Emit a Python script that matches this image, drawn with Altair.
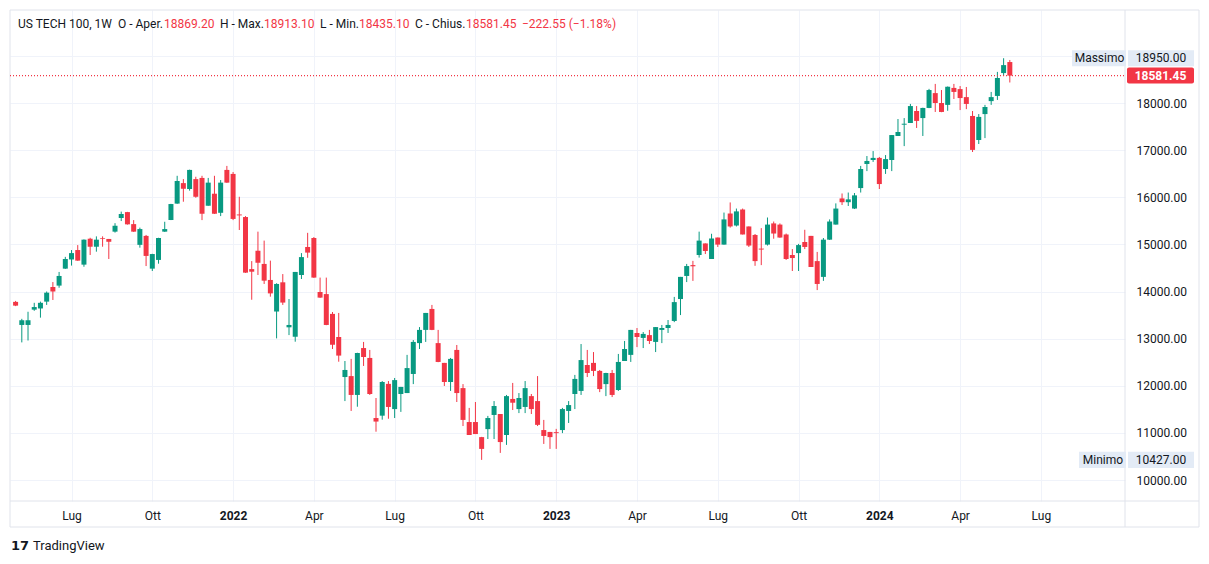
import altair as alt
import pandas as pd

# ---------------- data (weekly candles, US TECH 100) ----------------
opens = [13780, 13290, 13290, 13615, 13640, 13785, 14095, 14125, 14485, 14680,
         14880, 14570, 15120, 14950, 15135, 15115, 15270, 15560, 15685, 15430,
         14990, 15180, 14485, 14670, 15270, 15517, 15865, 16300, 16175, 16385,
         16410, 15820, 16075, 15670, 16580, 16495, 15635, 15580, 14475, 14865,
         14585, 14245, 13575, 14195, 13240, 13040, 14350, 14945, 15135, 13990,
         13945, 13525, 13035, 12185, 12205, 11805, 12800, 12590, 11315, 11365,
         12040, 11505, 11825, 11845, 12250, 12905, 13185, 13630, 12905, 12485,
         12080, 12760, 11950, 11230, 11230, 10910, 11080, 11380, 11400, 10955,
         11720, 11505, 11550, 11780, 11675, 11060, 11020, 11015, 11060, 11465,
         11825, 11890, 12440, 12485, 12315, 12035, 12270, 11910, 12525, 12655,
         13120, 13015, 13075, 12930, 13185, 13225, 13375, 13840, 14330, 14560,
         14775, 15020, 14690, 15145, 14995, 15655, 15400, 15740, 15380, 15200,
         14910, 14995, 15445, 15420, 15210, 14775, 14815, 15050, 15180, 14645,
         14310, 15100, 15420, 15975, 15895, 15760, 16195, 16705, 16790, 16835,
         16600, 16790, 17300, 17540, 17575, 17830, 17680, 17895, 18210, 18000,
         17960, 18320, 18295, 18125, 17725, 17215, 17765, 18040, 18150, 18635,
         18869.20]
highs = [13800, 13420, 13570, 13760, 13785, 14000, 14200, 14415, 14735, 14880,
         14985, 15105, 15140, 15170, 15170, 15115, 15450, 15695, 15690, 15515,
         15355, 15200, 14800, 15140, 15480, 15860, 16455, 16385, 16585, 16435,
         16455, 16410, 16455, 16365, 16665, 16535, 16010, 15600, 14645, 15270,
         15080, 14655, 14175, 14370, 13840, 14415, 14815, 15245, 15155, 14295,
         14295, 13565, 13545, 12525, 12570, 12700, 12930, 12760, 11740, 12100,
         12100, 12165, 11975, 12655, 12970, 13245, 13545, 13715, 13185, 12485,
         12590, 12865, 12035, 11530, 11655, 10915, 11360, 11675, 11400, 11805,
         12060, 11845, 12100, 11825, 12205, 11275, 11020, 11085, 11530, 11675,
         12230, 12885, 12760, 12715, 12335, 12275, 12335, 12675, 12950, 13185,
         13225, 13140, 13185, 13245, 13290, 13395, 13885, 14310, 14585, 14650,
         15270, 15020, 15225, 15145, 15675, 15890, 15760, 15760, 15380, 15220,
         15345, 15570, 15485, 15445, 15230, 14900, 15010, 15310, 15180, 14840,
         15135, 15530, 15870, 16080, 16100, 16090, 16665, 16875, 16980, 16855,
         16895, 17320, 17660, 17680, 17980, 17935, 17900, 18300, 18405, 18275,
         18350, 18405, 18360, 18340, 17830, 17765, 17960, 18235, 18660, 18950,
         18913.10]
lows = [13690, 12920, 12960, 13590, 13445, 13715, 13820, 14080, 14480, 14550,
        14650, 14525, 14775, 14845, 14950, 14690, 15250, 15495, 15420, 15265,
        14930, 14540, 14435, 14590, 15265, 15515, 15860, 15905, 16140, 15990,
        15515, 15820, 15645, 15600, 16305, 15515, 15305, 14395, 13825, 14350,
        14160, 13890, 13005, 13715, 13075, 12935, 14265, 14715, 14290, 13865,
        13285, 12780, 12510, 11675, 11465, 11555, 12420, 11805, 11025, 11280,
        11300, 11315, 11445, 11845, 12035, 12780, 12930, 13180, 12500, 11995,
        11890, 11655, 11145, 10955, 10975, 10427, 10870, 10870, 10575, 10745,
        11485, 11420, 11420, 11400, 11145, 10765, 10660, 10660, 10995, 11210,
        11505, 11805, 12185, 12205, 11865, 11780, 11760, 11890, 12525, 12505,
        12820, 12800, 12885, 12715, 12905, 13120, 13350, 13500, 14200, 14225,
        14720, 14795, 14690, 14945, 14995, 15355, 15380, 15210, 14945, 14545,
        14560, 14975, 15120, 15140, 14670, 14435, 14435, 14900, 14520, 14030,
        14225, 15095, 15420, 15835, 15815, 15750, 16100, 16555, 16750, 16175,
        16495, 16555, 17300, 17085, 17575, 17470, 17300, 17890, 17810, 17805,
        17835, 18085, 17850, 17870, 16960, 17130, 17255, 17960, 18065, 18575,
        18435.10]
closes = [13700, 13390, 13390, 13670, 13760, 13975, 14000, 14330, 14690, 14815,
          14655, 15100, 14950, 15100, 15120, 15055, 15395, 15645, 15425, 15270,
          15325, 14755, 14795, 15135, 15325, 15856, 16345, 16180, 16580, 16010,
          15650, 16310, 15650, 16310, 16310, 15540, 15615, 14400, 14420, 14610,
          14230, 13960, 14160, 13765, 13290, 14415, 14730, 14825, 14295, 13870,
          13290, 12870, 12640, 12335, 11805, 12695, 12610, 11825, 11240, 12080,
          11550, 12120, 11975, 12375, 12930, 13185, 13545, 13185, 12505, 12080,
          12570, 11845, 11275, 10955, 10975, 10660, 11315, 11570, 10805, 11780,
          11640, 11740, 11950, 11505, 11170, 10935, 10910, 10995, 11505, 11590,
          12145, 12545, 12270, 12315, 11930, 12270, 11805, 12505, 12780, 13185,
          13035, 13100, 12950, 13245, 13225, 13290, 13775, 14310, 14540, 14535,
          15080, 14860, 15125, 14995, 15530, 15380, 15700, 15210, 14975, 14645,
          14890, 15420, 15230, 15145, 14690, 14710, 14985, 14945, 14520, 14160,
          15100, 15485, 15760, 15895, 15955, 16040, 16600, 16770, 16835, 16280,
          16810, 17320, 17385, 17560, 17935, 17620, 17895, 18275, 18000, 17810,
          18345, 18235, 18105, 17980, 17005, 17705, 17915, 18125, 18530, 18804,
          18581.45]

tick_idx = [9, 22, 35, 48, 61, 74, 87, 100, 113, 126, 139, 152, 165]
tick_labels = ["Lug", "Ott", "2022", "Apr", "Lug", "Ott", "2023", "Apr",
               "Lug", "Ott", "2024", "Apr", "Lug"]
year_idx = [35, 87, 139]
price_ticks = [10000, 11000, 12000, 13000, 14000, 15000, 16000, 17000, 18000, 19000]

header_name = "US TECH 100, 1W"
header_labels = ["O - Aper.", "H - Max.", "L - Min.", "C - Chius."]
header_values = ["18869.20", "18913.10", "18435.10", "18581.45"]
header_change = "\u2212222.55 (\u22121.18%)"
label_px = [108, 210, 310, 405]
value_px = [154, 254, 349, 456]
change_px = 512

extreme_names = ["Massimo", "Minimo"]
extreme_values = [max(highs), min(lows)]

# ---------------- styling ----------------
UP = "#089981"
DOWN = "#F23645"
TXT = "#131722"
GRID = "#f0f3fa"
FRAME = "#e0e3eb"
FONT = "Roboto"
W, H = 1115, 491

n = len(opens)
df = pd.DataFrame({"i": list(range(n)), "open": opens, "high": highs,
                   "low": lows, "close": closes})

xs = alt.Scale(domain=[-0.096, 177.73], nice=False, zero=False)
ys = alt.Scale(domain=[9554.4, 19973.5], nice=False, zero=False)
candle_color = alt.condition("datum.close >= datum.open", alt.value(UP), alt.value(DOWN))

label_expr = ("[" + ",".join("'%s'" % t for t in tick_labels) + "][indexof(["
              + ",".join(str(v) for v in tick_idx) + "], datum.value)]")
year_test = " || ".join("datum.value == %d" % v for v in year_idx)

x_axis = alt.Axis(values=tick_idx, labelExpr=label_expr, grid=True, gridColor=GRID,
                  ticks=False, domain=False, labelPadding=9, labelFontSize=12,
                  labelColor=TXT, labelFont=FONT, title=None, labelFlush=False,
                  labelOverlap=False,
                  labelFontWeight={"condition": {"test": year_test, "value": "bold"},
                                   "value": "normal"})
y_axis = alt.Axis(orient="right", values=price_ticks,
                  labelExpr="datum.value >= 19000 ? '' : format(datum.value, '.2f')",
                  grid=True, gridColor=GRID, ticks=False, domain=False,
                  labelPadding=11, labelFontSize=12, labelColor=TXT, labelFont=FONT,
                  title=None, labelOverlap=False, labelFlush=False)


def X(f):
    return alt.X(f, scale=xs, axis=x_axis)


def Y(f):
    return alt.Y(f, scale=ys, axis=y_axis)


wicks = alt.Chart(df).mark_rule(strokeWidth=1).encode(
    x=X("i:Q"), y=Y("low:Q"), y2="high:Q", color=candle_color)
bodies = alt.Chart(df).mark_bar(width=5).encode(
    x=X("i:Q"), y=Y("open:Q"), y2="close:Q", color=candle_color)

one = pd.DataFrame({"k": [0]})


def rule(x1, x2, y1, y2):
    return alt.Chart(one).mark_rule(color=FRAME, strokeWidth=1).encode(
        x=alt.value(x1), x2=alt.value(x2), y=alt.value(y1), y2=alt.value(y2))


frame = [rule(0, 1189, 0, 0), rule(0, 0, 0, 517), rule(1189, 1189, 0, 517),
         rule(0, 1189, 517, 517), rule(W, W, 0, 517), rule(0, 1189, H, H)]

last = pd.DataFrame({"p": [closes[-1]], "t": ["%.2f" % closes[-1]], "c": [DOWN]})
price_line = alt.Chart(last).mark_rule(strokeDash=[1, 2], strokeWidth=1.2,
                                       strokeOpacity=1).encode(
    x=alt.value(0), x2=alt.value(W), y=Y("p:Q"),
    color=alt.Color("c:N", scale=None, legend=None))
last_box = alt.Chart(last).transform_calculate(
    lo="datum.p - 170", hi="datum.p + 170").mark_rect(color=DOWN, cornerRadius=2).encode(
    x=alt.value(1117), x2=alt.value(1184), y=Y("lo:Q"), y2="hi:Q")
last_txt = alt.Chart(last).mark_text(color="white", font=FONT, fontSize=12,
                                     fontWeight="bold", align="center", baseline="middle").encode(
    x=alt.value(1150.5), y=Y("p:Q"), text="t:N")

ext = pd.DataFrame({"name": extreme_names, "p": extreme_values,
                    "t": ["%.2f" % v for v in extreme_values],
                    "bx0": [1062, 1069], "tx": [1089.5, 1093]})
ext_name_box = alt.Chart(ext).transform_calculate(
    lo="datum.p - 170", hi="datum.p + 170").mark_rect(color="#e3ebf6").encode(
    x=alt.X("bx0:Q", scale=None), x2=alt.value(1116), y=Y("lo:Q"), y2="hi:Q")
ext_val_box = alt.Chart(ext).transform_calculate(
    lo="datum.p - 170", hi="datum.p + 170").mark_rect(color="#e3ebf6").encode(
    x=alt.value(1118), x2=alt.value(1184), y=Y("lo:Q"), y2="hi:Q")
ext_name_txt = alt.Chart(ext).mark_text(color=TXT, font=FONT, fontSize=12,
                                        align="center", baseline="middle").encode(
    x=alt.X("tx:Q", scale=None), y=Y("p:Q"), text="name:N")
ext_val_txt = alt.Chart(ext).mark_text(color=TXT, font=FONT, fontSize=12,
                                       align="center", baseline="middle").encode(
    x=alt.value(1151), y=Y("p:Q"), text="t:N")

hdr_lab = pd.DataFrame({"t": [header_name] + header_labels, "px": [8] + label_px})
hdr_val = pd.DataFrame({"t": header_values + [header_change],
                        "px": value_px + [change_px]})
header_labels_l = alt.Chart(hdr_lab).mark_text(font=FONT, fontSize=12, align="left",
                                               baseline="middle", color=TXT).encode(
    x=alt.X("px:Q", scale=None), y=alt.value(14), text="t:N")
header_values_l = alt.Chart(hdr_val).mark_text(font=FONT, fontSize=12, align="left",
                                               baseline="middle", color=DOWN).encode(
    x=alt.X("px:Q", scale=None), y=alt.value(14), text="t:N")

logo = alt.Chart(one).mark_text(text="17", font="DejaVu Sans", fontSize=13, fontWeight="bold",
                                color=TXT, align="left", baseline="middle").encode(
    x=alt.value(1), y=alt.value(536))
logo_txt = alt.Chart(one).mark_text(text="TradingView", font=FONT, fontSize=13,
                                    color=TXT, align="left", baseline="middle").encode(
    x=alt.value(23), y=alt.value(536))

chart = alt.layer(
    wicks, bodies, *frame, price_line, ext_name_box, ext_val_box, ext_name_txt,
    ext_val_txt, last_box, last_txt, header_labels_l, header_values_l,
    logo, logo_txt
).properties(
    width=W, height=H,
    padding={"left": 2, "top": 2, "right": 76, "bottom": 53},
    autosize=alt.AutoSizeParams(type="none"),
    background="white",
).configure_view(stroke=None)

chart.save("out.html", embed_options={"renderer": "svg", "actions": False})
